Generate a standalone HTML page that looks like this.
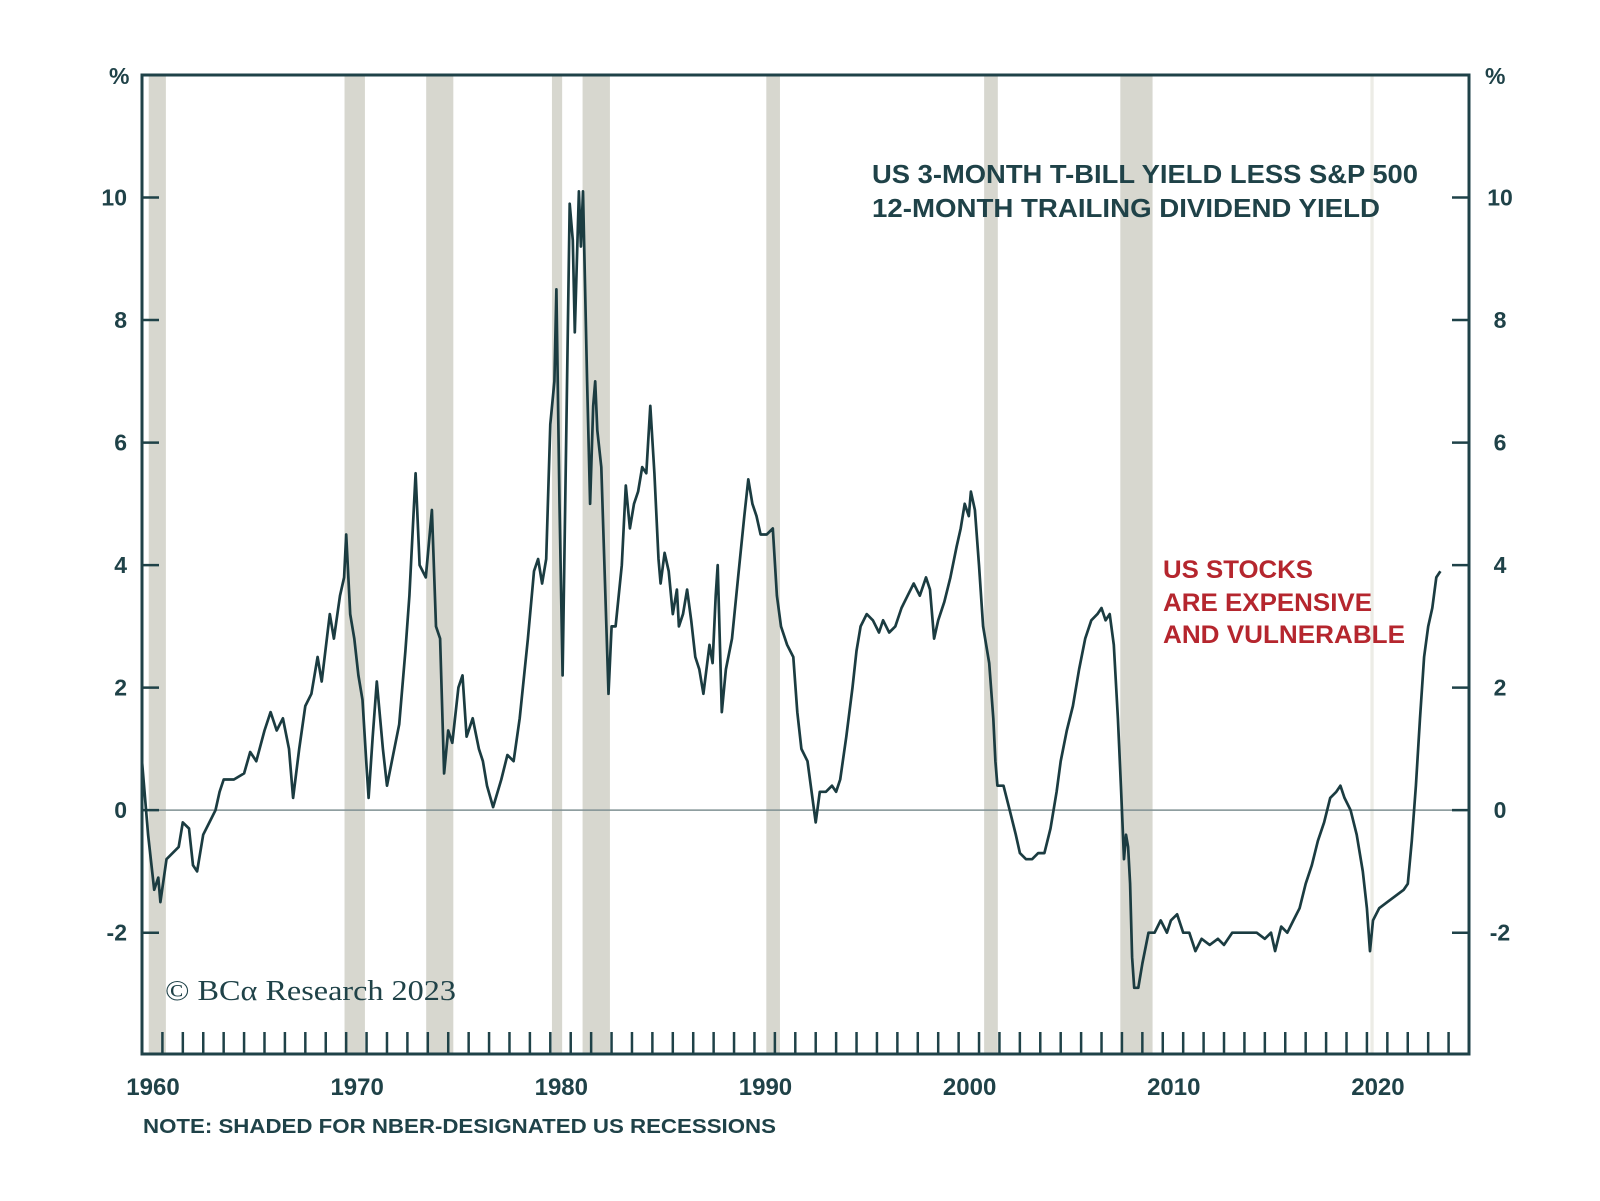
<!DOCTYPE html>
<html><head><meta charset="utf-8"><style>
body{margin:0;background:#fff;width:1600px;height:1196px;overflow:hidden}
svg text{font-family:"Liberation Sans",sans-serif}
</style></head><body>
<svg id="c" width="1600" height="1196" viewBox="0 0 1600 1196"></svg>
<script>
const recessionStarts=[1960.33,1969.92,1973.92,1980.08,1981.58,1990.58,2001.25,2007.92,2020.17];
const recessionEnds=[1961.17,1970.92,1975.25,1980.58,1982.92,1991.25,2001.92,2009.5,2020.33];
const yTicks=[-2,0,2,4,6,8,10];
const xLabels=[1960,1970,1980,1990,2000,2010,2020];
const years=[1960.0,1960.3,1960.6,1960.8,1960.9,1961.2,1961.5,1961.8,1962.0,1962.3,1962.5,1962.7,1963.0,1963.3,1963.6,1963.8,1964.0,1964.5,1965.0,1965.3,1965.6,1966.0,1966.3,1966.6,1966.9,1967.2,1967.4,1967.7,1968.0,1968.3,1968.6,1968.8,1969.2,1969.4,1969.7,1969.9,1970.0,1970.2,1970.4,1970.6,1970.8,1971.0,1971.1,1971.3,1971.5,1971.8,1972.0,1972.3,1972.6,1972.9,1973.1,1973.4,1973.6,1973.9,1974.2,1974.4,1974.6,1974.8,1975.0,1975.2,1975.5,1975.7,1975.9,1976.2,1976.5,1976.7,1976.9,1977.2,1977.6,1977.9,1978.2,1978.5,1978.9,1979.2,1979.4,1979.6,1979.8,1980.0,1980.2,1980.3,1980.45,1980.6,1980.8,1980.95,1981.1,1981.2,1981.4,1981.5,1981.6,1981.8,1981.95,1982.1,1982.2,1982.3,1982.5,1982.7,1982.85,1983.0,1983.2,1983.5,1983.7,1983.9,1984.1,1984.3,1984.5,1984.7,1984.9,1985.1,1985.3,1985.4,1985.6,1985.8,1986.0,1986.2,1986.3,1986.5,1986.7,1986.9,1987.1,1987.3,1987.5,1987.8,1987.95,1988.1,1988.2,1988.4,1988.6,1988.9,1989.2,1989.5,1989.7,1989.9,1990.1,1990.3,1990.6,1990.9,1991.1,1991.3,1991.6,1991.9,1992.1,1992.3,1992.6,1992.8,1993.0,1993.2,1993.5,1993.8,1994.0,1994.2,1994.5,1994.8,1995.0,1995.2,1995.5,1995.8,1996.1,1996.3,1996.6,1996.9,1997.2,1997.5,1997.8,1998.1,1998.4,1998.6,1998.8,1999.0,1999.3,1999.6,1999.9,2000.1,2000.3,2000.5,2000.6,2000.8,2001.0,2001.2,2001.5,2001.7,2001.8,2001.9,2002.2,2002.5,2002.8,2003.0,2003.3,2003.6,2003.9,2004.2,2004.5,2004.8,2005.0,2005.3,2005.6,2005.9,2006.2,2006.5,2006.8,2007.0,2007.2,2007.4,2007.6,2007.8,2007.95,2008.1,2008.2,2008.3,2008.4,2008.5,2008.6,2008.8,2009.0,2009.3,2009.6,2009.9,2010.2,2010.4,2010.7,2011.0,2011.3,2011.6,2011.9,2012.3,2012.7,2013.0,2013.4,2013.8,2014.2,2014.6,2015.0,2015.3,2015.5,2015.8,2016.1,2016.4,2016.7,2017.0,2017.3,2017.6,2017.9,2018.2,2018.5,2018.7,2018.9,2019.2,2019.5,2019.8,2020.0,2020.15,2020.3,2020.6,2021.0,2021.4,2021.8,2022.0,2022.2,2022.4,2022.6,2022.8,2023.0,2023.2,2023.4,2023.6];
const values=[0.8,-0.4,-1.3,-1.1,-1.5,-0.8,-0.7,-0.6,-0.2,-0.3,-0.9,-1.0,-0.4,-0.2,0.0,0.3,0.5,0.5,0.6,0.95,0.8,1.3,1.6,1.3,1.5,1.0,0.2,1.0,1.7,1.9,2.5,2.1,3.2,2.8,3.5,3.8,4.5,3.2,2.8,2.2,1.8,0.7,0.2,1.2,2.1,1.0,0.4,0.9,1.4,2.6,3.5,5.5,4.0,3.8,4.9,3.0,2.8,0.6,1.3,1.1,2.0,2.2,1.2,1.5,1.0,0.8,0.4,0.05,0.5,0.9,0.8,1.5,2.8,3.9,4.1,3.7,4.1,6.3,7.0,8.5,5.0,2.2,6.5,9.9,9.3,7.8,10.1,9.2,10.1,7.0,5.0,6.6,7.0,6.2,5.6,3.5,1.9,3.0,3.0,4.0,5.3,4.6,5.0,5.2,5.6,5.5,6.6,5.5,4.1,3.7,4.2,3.9,3.2,3.6,3.0,3.2,3.6,3.1,2.5,2.3,1.9,2.7,2.4,3.5,4.0,1.6,2.3,2.8,3.8,4.8,5.4,5.0,4.8,4.5,4.5,4.6,3.5,3.0,2.7,2.5,1.6,1.0,0.8,0.3,-0.2,0.3,0.3,0.4,0.3,0.5,1.2,2.0,2.6,3.0,3.2,3.1,2.9,3.1,2.9,3.0,3.3,3.5,3.7,3.5,3.8,3.6,2.8,3.1,3.4,3.8,4.3,4.6,5.0,4.8,5.2,4.9,4.0,3.0,2.4,1.5,0.8,0.4,0.4,0.0,-0.4,-0.7,-0.8,-0.8,-0.7,-0.7,-0.3,0.3,0.8,1.3,1.7,2.3,2.8,3.1,3.2,3.3,3.1,3.2,2.7,1.5,0.4,-0.8,-0.4,-0.6,-1.2,-2.4,-2.9,-2.9,-2.5,-2.0,-2.0,-1.8,-2.0,-1.8,-1.7,-2.0,-2.0,-2.3,-2.1,-2.2,-2.1,-2.2,-2.0,-2.0,-2.0,-2.0,-2.1,-2.0,-2.3,-1.9,-2.0,-1.8,-1.6,-1.2,-0.9,-0.5,-0.2,0.2,0.3,0.4,0.2,0.0,-0.4,-1.0,-1.6,-2.3,-1.8,-1.6,-1.5,-1.4,-1.3,-1.2,-0.5,0.4,1.5,2.5,3.0,3.3,3.8,3.9];

const L=142,R=1469,T=75,B=1054,X0=1960,X1=2025,Y0=-3.98,Y1=12;
const sx=v=>L+(v-X0)/(X1-X0)*(R-L);
const sy=v=>B-(v-Y0)/(Y1-Y0)*(B-T);
const svg=document.getElementById('c');
const NS='http://www.w3.org/2000/svg';
function mk(tag,attrs,txt){const e=document.createElementNS(NS,tag);for(const k in attrs)e.setAttribute(k,attrs[k]);if(txt!==undefined)e.textContent=txt;svg.appendChild(e);return e;}
const DARK='#1f4248';
recessionStarts.forEach((s,i)=>{
  const e=mk('rect',{x:sx(s),y:T,width:Math.max(2,sx(recessionEnds[i])-sx(s)),height:B-T,fill:i===8?'#ececE6':'#d7d7cf'});
  
  
});
const z=mk('line',{x1:L,x2:R,y1:sy(0),y2:sy(0),stroke:'#7f9092','stroke-width':1.5});


for(let y=1961;y<=2024;y++){
  const t=mk('line',{x1:sx(y),x2:sx(y),y1:B-22,y2:B,stroke:DARK,'stroke-width':2.5});
  
  
}
yTicks.forEach(v=>{
  const a=mk('line',{x1:L,x2:L+17,y1:sy(v),y2:sy(v),stroke:DARK,'stroke-width':2.5});
  
  
  const b=mk('line',{x1:R-17,x2:R,y1:sy(v),y2:sy(v),stroke:DARK,'stroke-width':2.5});
  
  
  const l=mk('text',{x:127,y:sy(v)+8,'text-anchor':'end','font-size':23,'font-weight':'bold',fill:DARK},String(v));
  
  
  const r=mk('text',{x:1500,y:sy(v)+8,'text-anchor':'middle','font-size':23,'font-weight':'bold',fill:DARK},String(v));
  
  
});
xLabels.forEach(v=>{
  const l=mk('text',{x:sx(v)+11,y:1095,'text-anchor':'middle','font-size':24,'font-weight':'bold',fill:DARK},String(v));
  
  
});
const d=years.map((y,i)=>(i?'L':'M')+sx(y).toFixed(1)+','+sy(values[i]).toFixed(1)).join('');
const p=mk('path',{d:d,fill:'none',stroke:'#1b3c41','stroke-width':2.7,'stroke-linejoin':'round'});


const f=mk('rect',{x:L,y:T,width:R-L,height:B-T,fill:'none',stroke:DARK,'stroke-width':3});


const texts=[
 ['pct-left',109,84,'%',23,DARK,0],
 ['pct-right',1485,84,'%',23,DARK,0],
 ['title-line1',872,183,'US 3-MONTH T-BILL YIELD LESS S&P 500',26,DARK,546],
 ['title-line2',872,217,'12-MONTH TRAILING DIVIDEND YIELD',26,DARK,508],
 ['annotation-line1',1163,578,'US STOCKS',25,'#b5262e',150],
 ['annotation-line2',1163,611,'ARE EXPENSIVE',25,'#b5262e',209],
 ['annotation-line3',1163,643,'AND VULNERABLE',25,'#b5262e',242],
 ['note',143,1133,'NOTE: SHADED FOR NBER-DESIGNATED US RECESSIONS',20,DARK,633]
];
texts.forEach(t=>{
  const a={x:t[1],y:t[2],'font-size':t[4],fill:t[5],'font-weight':'bold'};
  if(t[6]){a.textLength=t[6];a.lengthAdjust='spacingAndGlyphs';}
  const e=mk('text',a,t[3]);
  
  
});
const c=mk('text',{x:165,y:1000,'font-size':28,fill:DARK,textLength:291,lengthAdjust:'spacingAndGlyphs'},'© BCα Research 2023');
c.setAttribute('style','font-family:"Liberation Serif",serif');


</script>
</body></html>
